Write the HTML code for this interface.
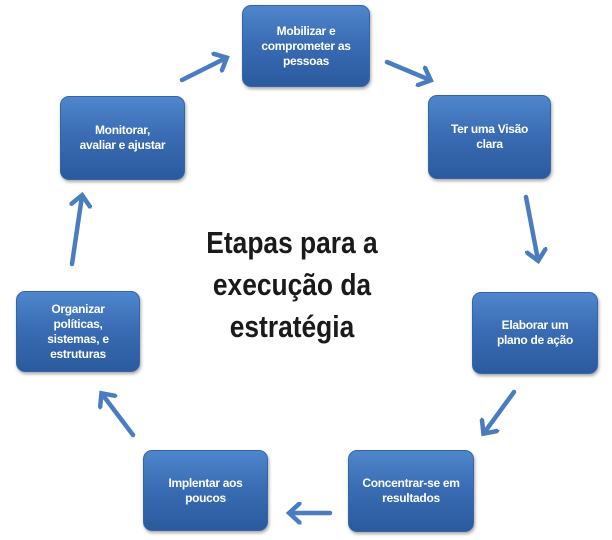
<!DOCTYPE html>
<html><head><meta charset="utf-8"><style>
body{margin:0;width:612px;height:540px;background:#fff;position:relative;overflow:hidden;font-family:"Liberation Sans",sans-serif}
.b{position:absolute;border-radius:9px;background:linear-gradient(#4f86cc,#3a6db5 45%,#2b5a9e);box-shadow:1px 2px 3px rgba(0,0,0,.35);color:#fff;font-weight:bold;font-size:12px;line-height:15px;display:flex;align-items:center;justify-content:center;text-align:center;border:1px solid #3565a8;box-sizing:border-box;letter-spacing:-0.3px}
.t{position:absolute;left:152px;top:222px;width:280px;text-align:center;font-size:31px;line-height:42px;font-weight:bold;color:#1a1a1a;transform:scaleX(0.85);transform-origin:140px 0}
</style></head><body>
<div class="b" style="left:242px;top:5px;width:128px;height:82px">Mobilizar e<br>comprometer as<br>pessoas</div>
<div class="b" style="left:428px;top:95px;width:123px;height:84px">Ter uma Visão<br>clara</div>
<div class="b" style="left:60px;top:96px;width:125px;height:84px">Monitorar,<br>avaliar e ajustar</div>
<div class="b" style="left:16px;top:291px;width:124px;height:81px">Organizar<br>políticas,<br>sistemas, e<br>estruturas</div>
<div class="b" style="left:472px;top:292px;width:126px;height:82px">Elaborar um<br>plano de ação</div>
<div class="b" style="left:143px;top:450px;width:125px;height:81px">Implentar aos<br>poucos</div>
<div class="b" style="left:348px;top:450px;width:126px;height:82px">Concentrar-se em<br>resultados</div>
<div class="t">Etapas para a<br>execução da<br>estratégia</div>
<svg width="612" height="540" style="position:absolute;left:0;top:0">
<defs><marker id="a" markerWidth="5" markerHeight="5" refX="2.5" refY="2.5" orient="auto"><path d="M0.3,0.3 L2.7,2.5 L0.3,4.7" fill="none" stroke="#4a7dc0" stroke-width="1" stroke-linecap="round"/></marker></defs>
<g stroke="#4a7dc0" stroke-width="4.5" fill="none" stroke-linecap="round" marker-end="url(#a)">
<line x1="387" y1="62" x2="430" y2="80"/>
<line x1="526" y1="197" x2="538" y2="260"/>
<line x1="514" y1="392" x2="484" y2="433"/>
<line x1="330" y1="513" x2="290" y2="513"/>
<line x1="133" y1="435" x2="102" y2="394"/>
<line x1="72" y1="264" x2="82" y2="196"/>
<line x1="182" y1="80" x2="226" y2="58"/>
</g></svg>
</body></html>
